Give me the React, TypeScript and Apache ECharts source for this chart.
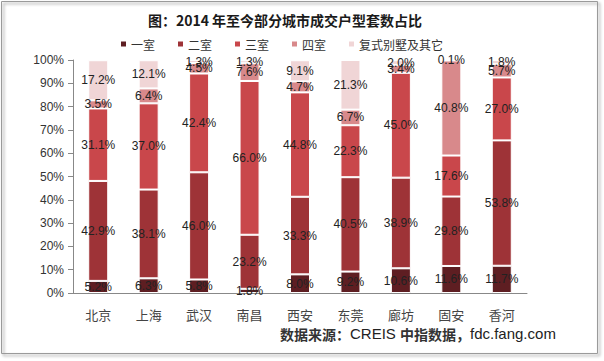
import React, { useEffect, useRef } from "react";
import * as echarts from "echarts";

const categories = ["北京", "上海", "武汉", "南昌", "西安", "东莞", "廊坊", "固安", "香河"];
const seriesNames = ["一室", "二室", "三室", "四室", "复式别墅及其它"];
const oneRoom = [5.2, 6.3, 5.8, 1.8, 8.0, 9.2, 10.6, 11.6, 11.7];
const twoRoom = [42.9, 38.1, 46.0, 23.2, 33.3, 40.5, 38.9, 29.8, 53.8];
const threeRoom = [31.1, 37.0, 42.4, 66.0, 44.8, 22.3, 45.0, 17.6, 27.0];
const fourRoom = [3.5, 6.4, 4.5, 7.6, 4.7, 6.7, 3.4, 40.8, 5.7];
const others = [17.2, 12.1, 1.3, 1.3, 9.1, 21.3, 2.0, 0.1, 1.8];
const colors = ["#5e1e22", "#9e3337", "#c9474b", "#d8898b", "#f0d5d6"];
const titleText = "图：2014 年至今部分城市成交户型套数占比";
const sourceText = "{c|数据来源：}{l|CREIS }{c|中指数据，}{l|fdc.fang.com}";

export default function App() {
  const ref = useRef<HTMLDivElement>(null);
  useEffect(() => {
    if (!ref.current) return;
    const chart = echarts.init(ref.current, null, { renderer: "svg" });
    const data = [oneRoom, twoRoom, threeRoom, fourRoom, others];
    chart.setOption({
      animation: false,
      backgroundColor: "#ffffff",
      textStyle: { fontFamily: "'Noto Sans CJK SC', 'DejaVu Sans', sans-serif" },
      title: {
        text: titleText,
        left: 280,
        textAlign: "center",
        top: 8,
        textStyle: { fontSize: 14, fontWeight: "bold", color: "#1a1a1a", fontFamily: "'Noto Sans CJK SC', sans-serif" },
      },
      legend: {
        data: seriesNames,
        top: 33,
        left: 114,
        itemWidth: 7,
        itemHeight: 7,
        itemGap: 21,
        icon: "rect",
        textStyle: { fontSize: 12, color: "#333", padding: [0, 0, 0, -1] },
      },
      grid: { left: 73, right: 77, top: 60, bottom: 68 },
      xAxis: {
        type: "category",
        data: categories,
        axisLine: { lineStyle: { color: "#888", width: 1 } },
        axisTick: { length: 7, lineStyle: { color: "#888" } },
        axisLabel: { fontSize: 13, color: "#444", margin: 15 },
      },
      yAxis: {
        type: "value",
        min: 0,
        max: 100,
        interval: 10,
        splitLine: { show: false },
        axisLine: { show: true, lineStyle: { color: "#888" } },
        axisTick: { show: true, length: 5, lineStyle: { color: "#888" } },
        axisLabel: { formatter: "{value}%", fontSize: 12, color: "#333", margin: 9, fontFamily: "'Liberation Sans', sans-serif" },
      },
      graphic: [
        {
          type: "rect",
          shape: { x: 1.5, y: 1.5, width: 596, height: 352 },
          style: { fill: "none", stroke: "#9a9a9a", lineWidth: 1, shadowColor: "rgba(0,0,0,0.45)", shadowBlur: 3, shadowOffsetX: 2, shadowOffsetY: 2 },
          silent: true,
        },
        {
          type: "text",
          left: 280,
          top: 326,
          style: {
            text: sourceText,
            rich: {
              c: { fontSize: 14, fontWeight: "bold", fill: "#333", fontFamily: "'Noto Sans CJK SC', sans-serif" },
              l: { fontSize: 15, fill: "#222", fontFamily: "'Liberation Sans', sans-serif" },
            },
          },
        },
      ],
      series: data.map((vals, i) => ({
        name: seriesNames[i],
        type: "bar",
        stack: "total",
        barWidth: 20,
        data: vals,
        itemStyle: { color: colors[i], borderColor: "#ffffff", borderWidth: 1 },
        label: {
          show: true,
          position: "inside",
          formatter: (p: any) => p.value.toFixed(1) + "%",
          fontSize: 12,
          color: "#222",
          fontFamily: "'Liberation Sans', sans-serif",
        },
      })),
    });
    return () => chart.dispose();
  }, []);
  return <div ref={ref} style={{ position: "fixed", left: 0, top: 0, width: 604, height: 361 }} />;
}
